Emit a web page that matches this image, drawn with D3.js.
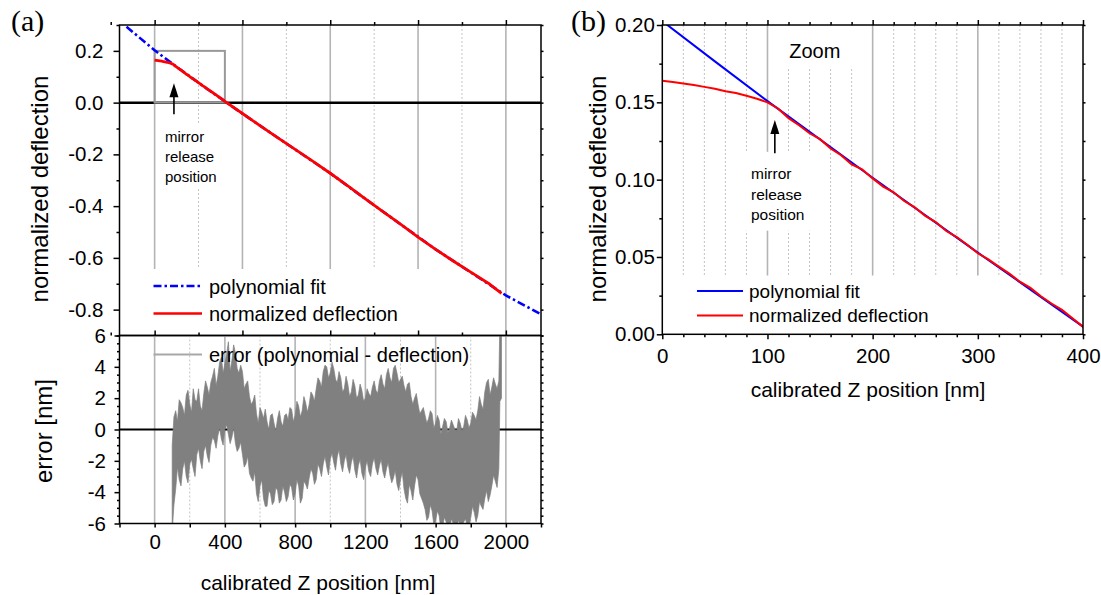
<!DOCTYPE html>
<html lang="en">
<head>
<meta charset="UTF-8">
<title>Normalized deflection and fit error vs calibrated Z position</title>
<script src="https://d3js.org/d3.v7.min.js"></script>
<style>
  body { margin: 0; background: #fff; }
  svg text { font-family: "Liberation Sans", Arial, sans-serif; fill: #000; }
  .tick line { stroke: #000; stroke-width: 1.5; }
</style>
</head>
<body>
<div id="chart"></div>
<script>
// polynomial fit (nm, normalized deflection)
const polyX = [-160, 0, 50, 100, 200, 300, 400, 500, 600, 800, 1000, 1200, 1400, 1600, 1800, 2000, 2200];
const polyY = [0.293, 0.2025, 0.1765, 0.1508, 0.1012, 0.0528, 0.0050, -0.0425, -0.089, -0.181, -0.273, -0.372, -0.470, -0.567, -0.656, -0.745, -0.818];

// measured normalized deflection
const defX = [0, 10, 20, 30, 40, 50, 60, 70, 80, 90, 100, 110, 120, 130, 140, 150, 160, 170, 180, 190,
  200, 210, 220, 230, 240, 250, 260, 270, 280, 290, 300, 310, 320, 330, 340, 350, 360, 370, 380, 390, 400,
  500, 600, 700, 800, 900, 1000, 1100, 1200, 1300, 1400, 1500, 1600, 1700, 1800, 1900, 1975];
const defY = [0.1640, 0.1632, 0.1622, 0.1612, 0.1600, 0.1588, 0.1572, 0.1560, 0.1542, 0.1523, 0.1500, 0.1460,
  0.1398, 0.1352, 0.1300, 0.1262, 0.1201, 0.1158, 0.1098, 0.1066, 0.1008, 0.0955, 0.0918, 0.0862, 0.0821,
  0.0766, 0.0726, 0.0668, 0.0629, 0.0579, 0.0524, 0.0484, 0.0438, 0.0392, 0.0340, 0.0300, 0.0246, 0.0199,
  0.0158, 0.0104, 0.0048, -0.042, -0.089, -0.135, -0.181, -0.226, -0.273, -0.322, -0.372, -0.421, -0.470,
  -0.520, -0.567, -0.612, -0.655, -0.698, -0.737];

// error (polynomial - deflection) in nm: upper / lower excursions of the noisy trace
const errX = [100, 120, 140, 160, 180, 200, 220, 240, 260, 280, 300, 320, 340, 360, 380, 400, 420, 440, 460, 480,
  500, 520, 540, 560, 580, 600, 620, 640, 660, 680, 700, 720, 740, 760, 780, 800, 820, 840, 860, 880,
  900, 920, 940, 960, 980, 1000, 1020, 1040, 1060, 1080, 1100, 1120, 1140, 1160, 1180, 1200, 1220, 1240, 1260, 1280,
  1300, 1320, 1340, 1360, 1380, 1400, 1420, 1440, 1460, 1480, 1500, 1520, 1540, 1560, 1580, 1600, 1620, 1640, 1660, 1680,
  1700, 1720, 1740, 1760, 1780, 1800, 1820, 1840, 1860, 1880, 1900, 1920, 1940, 1960, 1966, 1975];
const errHi = [-1.0, 1.2, 1.9, 1.4, 2.2, 1.6, 2.6, 1.8, 1.5, 2.3, 2.7, 3.0, 3.9, 3.4, 4.6, 4.2, 5.6, 4.4, 4.9, 3.6,
  3.7, 2.9, 2.1, 1.8, 1.0, 1.4, 0.7, 0.5, 0.9, 0.4, 0.7, 0.5, 0.9, 0.6, 1.3, 0.9, 1.5, 1.2, 1.7, 1.6,
  2.2, 2.6, 3.1, 3.7, 4.0, 3.6, 3.9, 3.0, 3.3, 2.6, 2.9, 2.4, 2.8, 2.2, 2.5, 2.0, 2.3, 2.7, 2.5, 3.1,
  2.9, 3.5, 3.3, 3.9, 3.6, 3.2, 2.8, 2.9, 2.1, 2.0, 1.6, 1.2, 0.9, 0.7, 1.0, 0.4, 0.6, 0.2, 0.5, 0.1,
  0.3, -0.1, 0.4, 0.2, 0.6, 0.4, 0.9, 1.2, 1.6, 2.4, 3.2, 2.7, 2.9, 3.1, 7.0, 7.0];
const errLo = [-6.5, -3.8, -3.2, -2.5, -3.0, -2.2, -2.5, -1.6, -2.0, -1.4, -1.7, -1.0, -0.7, -0.4, -0.6, 0.0, -0.3, -0.5, -0.9, -1.2,
  -1.6, -2.2, -2.8, -3.3, -4.1, -3.6, -4.4, -4.9, -4.1, -4.6, -3.9, -4.5, -4.0, -4.3, -3.7, -4.1, -3.6, -4.4, -3.5, -3.1,
  -2.8, -3.2, -2.5, -2.2, -2.4, -1.9, -2.1, -1.7, -2.2, -2.0, -2.4, -2.1, -2.6, -2.3, -2.8, -2.4, -2.7, -2.2, -2.5, -2.3,
  -2.7, -2.5, -2.9, -3.1, -3.5, -3.2, -3.8, -4.7, -3.9, -3.6, -3.2, -4.4, -5.1, -5.6, -5.2, -5.8, -5.5, -6.2, -5.9, -6.3,
  -6.0, -6.3, -6.1, -5.9, -6.2, -5.6, -5.3, -5.5, -4.9, -4.4, -4.6, -3.6, -3.3, -2.5, 1.8, 2.0];
// in-between samples of the same trace
const errMidX = [110, 130, 150, 170, 190, 210, 230, 250, 270, 290, 310, 330, 350, 370, 390, 410, 430, 450, 470, 490,
  510, 530, 550, 570, 590, 610, 630, 650, 670, 690, 710, 730, 750, 770, 790, 810, 830, 850, 870, 890,
  910, 930, 950, 970, 990, 1010, 1030, 1050, 1070, 1090, 1110, 1130, 1150, 1170, 1190, 1210, 1230, 1250, 1270, 1290,
  1310, 1330, 1350, 1370, 1390, 1410, 1430, 1450, 1470, 1490, 1510, 1530, 1550, 1570, 1590, 1610, 1630, 1650, 1670, 1690,
  1710, 1730, 1750, 1770, 1790, 1810, 1830, 1850, 1870, 1890, 1910, 1930, 1950];
const errMidHi = [0.8, 0.5, 1.7, 0.9, 2.5, 1.1, 1.9, 2.6, 1.2, 3.1, 2.2, 3.4, 2.8, 4.3, 3.6, 4.8, 3.7, 5.4, 3.9, 4.1,
  2.6, 3.1, 1.6, 2.2, 0.4, 1.1, 1.3, 0.0, 1.0, -0.1, 1.2, 0.2, 1.0, 1.4, 0.5, 1.8, 0.8, 2.1, 1.1, 2.4,
  1.8, 3.3, 2.7, 4.1, 3.3, 4.3, 3.2, 3.7, 2.4, 3.4, 2.1, 3.2, 2.0, 2.9, 1.8, 2.6, 2.1, 3.1, 2.3, 3.5,
  2.6, 3.9, 3.0, 4.1, 3.0, 3.4, 2.4, 3.0, 1.6, 2.3, 1.0, 1.4, 0.4, 1.2, 0.1, 0.9, -0.3, 0.7, -0.2, 0.6,
  0.0, 0.7, -0.1, 0.9, 0.1, 1.1, 0.6, 2.1, 1.3, 3.0, 2.2, 3.3, 2.6];
const errMidLo = [-4.8, -2.4, -3.6, -2.0, -3.4, -1.9, -3.0, -1.2, -2.5, -1.0, -2.1, -0.5, -1.2, 0.1, -1.0, 0.3, -0.9, 0.1, -1.4, -0.8,
  -2.4, -1.7, -3.1, -2.7, -4.6, -3.2, -4.9, -3.9, -4.8, -3.7, -4.7, -3.6, -4.6, -3.5, -4.5, -3.2, -4.7, -3.3, -3.8, -2.5,
  -3.5, -2.2, -3.0, -1.7, -2.9, -1.5, -2.6, -1.3, -2.7, -1.6, -2.8, -1.7, -3.1, -1.9, -3.2, -2.0, -3.0, -1.8, -2.9, -1.9,
  -3.1, -2.1, -3.4, -2.6, -3.9, -2.7, -4.4, -3.5, -4.5, -2.9, -4.1, -4.7, -5.8, -4.8, -6.1, -5.2, -6.4, -5.6, -6.4, -5.7,
  -6.4, -5.8, -6.3, -5.7, -6.3, -4.9, -5.9, -4.6, -5.1, -3.9, -4.2, -2.9, -3.7];

// ticks and grid
const topYMajor = [0.2, 0, -0.2, -0.4, -0.6, -0.8];
const topYMinor = [0.3, 0.1, -0.1, -0.3, -0.5, -0.7, -0.9];
const topXMajor = [0, 500, 1000, 1500, 2000];
const topXMinor = [-250, 250, 750, 1250, 1750];
const errYMajor = [6, 4, 2, 0, -2, -4, -6];
const errYMinor = [5.5, 5, 4.5, 3.5, 3, 2.5, 1.5, 1, 0.5, -0.5, -1, -1.5, -2.5, -3, -3.5, -4.5, -5, -5.5];
const errXMajor = [0, 400, 800, 1200, 1600, 2000];
const errXMinor = [-200, 200, 600, 1000, 1400, 1800, 2200];
const bYMajor = [0, 0.05, 0.1, 0.15, 0.2];
const bYMinor = [0.025, 0.075, 0.125, 0.175];
const bXMajor = [0, 100, 200, 300, 400];
const bXMinor = [20, 40, 60, 80, 120, 140, 160, 180, 220, 240, 260, 280, 320, 340, 360, 380];

const mirrorRelease = 110;

const svg = d3.select("#chart").append("svg")
  .attr("width", 1101)
  .attr("height", 595);

// scales
const xA = d3.scaleLinear().domain([-200, 2200]).range([119.5, 541]);
const yTop = d3.scaleLinear().domain([-0.9, 0.3]).range([335.5, 25]);
const yErr = d3.scaleLinear().domain([-6, 6]).range([523.5, 335.5]);
const xB = d3.scaleLinear().domain([0, 400]).range([662.3, 1083]);
const yB = d3.scaleLinear().domain([0, 0.2]).range([334.3, 25]);

function clip(id, x0, y0, x1, y1) {
  svg.append("clipPath").attr("id", id).append("rect")
    .attr("x", x0).attr("y", y0).attr("width", x1 - x0).attr("height", y1 - y0);
}
clip("clipTop", xA(-200), yTop(0.3), xA(2200), yTop(-0.9));
clip("clipErr", xA(-200), yErr(6), xA(2200), yErr(-6));
clip("clipB", xB(0), yB(0.2), xB(400), yB(0));

function grid(vals, x, y0, y1, dotted) {
  svg.append("g").selectAll("line").data(vals).join("line")
    .attr("x1", d => x(d)).attr("x2", d => x(d))
    .attr("y1", y0).attr("y2", y1)
    .attr("stroke", dotted ? "#c4c4c4" : "#b4b4b4")
    .attr("stroke-width", dotted ? 1 : 1.6)
    .attr("stroke-dasharray", dotted ? "2,2" : null);
}

function ticks(axis, scale, vals, size, tx, ty, fmt, pad, fontSize) {
  const a = axis(scale).tickValues(vals).tickSize(size).tickSizeOuter(0)
    .tickPadding(pad || 3).tickFormat(fmt || "");
  const g = svg.append("g").attr("transform", `translate(${tx},${ty})`).call(a);
  g.select(".domain").remove();
  g.selectAll("text").style("font-size", (fontSize || 20.5) + "px");
  return g;
}

function frame(x0, y0, x1, y1) {
  svg.append("rect").attr("x", x0).attr("y", y0)
    .attr("width", x1 - x0).attr("height", y1 - y0)
    .attr("fill", "none").attr("stroke", "#000").attr("stroke-width", 1.5);
}

function whiteBox(x0, y0, x1, y1) {
  svg.append("rect").attr("x", x0).attr("y", y0)
    .attr("width", x1 - x0).attr("height", y1 - y0).attr("fill", "#fff");
}

// ---------- panel (a) top ----------
grid(topXMajor.filter(d => d >= 0), xA, yTop(0.3), yTop(-0.9), false);
grid(topXMinor.filter(d => d > 0), xA, yTop(0.3), yTop(-0.9), true);
// legend background
whiteBox(xA(-190), 269, xA(1775), yTop(-0.9) - 1);
// mirror text background
whiteBox(160, 124, 212, 188);

svg.append("line")
  .attr("x1", xA(-200)).attr("x2", xA(2200))
  .attr("y1", yTop(0)).attr("y2", yTop(0))
  .attr("stroke", "#000").attr("stroke-width", 2.5);

svg.append("rect")
  .attr("x", xA(0)).attr("y", yTop(0.2))
  .attr("width", xA(400) - xA(0)).attr("height", yTop(0) - yTop(0.2))
  .attr("fill", "none").attr("stroke", "#999").attr("stroke-width", 2);

const lineTop = d3.line().x(d => xA(d[0])).y(d => yTop(d[1]));
svg.append("path")
  .datum(d3.zip(polyX, polyY))
  .attr("clip-path", "url(#clipTop)")
  .attr("fill", "none").attr("stroke", "#0000ff").attr("stroke-width", 2.6)
  .attr("stroke-dasharray", "8,3,2.5,3")
  .attr("d", lineTop);
svg.append("path")
  .datum(d3.zip(defX, defY))
  .attr("fill", "none").attr("stroke", "#ff0000").attr("stroke-width", 2.8)
  .attr("stroke-linejoin", "round")
  .attr("d", lineTop);

// arrow + text
function arrow(x, yTip, yBase) {
  svg.append("line").attr("x1", x).attr("x2", x).attr("y1", yBase).attr("y2", yTip + 10)
    .attr("stroke", "#000").attr("stroke-width", 1.6);
  svg.append("path")
    .attr("d", `M${x},${yTip} L${x - 4.5},${yTip + 14} L${x + 4.5},${yTip + 14} Z`)
    .attr("fill", "#000");
}
arrow(xA(mirrorRelease), yTop(0.075), yTop(-0.045));
["mirror", "release", "position"].forEach((t, i) => {
  svg.append("text").attr("x", 165).attr("y", 142 + i * 20)
    .style("font-size", "15px").text(t);
});

// legend (a)
svg.append("line").attr("x1", 153.5).attr("x2", 202).attr("y1", 286).attr("y2", 286)
  .attr("stroke", "#0000ff").attr("stroke-width", 2.6).attr("stroke-dasharray", "8,3,2.5,3");
svg.append("line").attr("x1", 153.5).attr("x2", 202).attr("y1", 313.5).attr("y2", 313.5)
  .attr("stroke", "#ff0000").attr("stroke-width", 2.6);
svg.append("text").attr("x", 209).attr("y", 294).style("font-size", "20px").text("polynomial fit");
svg.append("text").attr("x", 209).attr("y", 321).style("font-size", "20px").text("normalized deflection");

// axes (a) top
ticks(d3.axisLeft, yTop, topYMajor, 6, xA(-200), 0, d => d.toFixed(1), 10);
ticks(d3.axisLeft, yTop, topYMinor, 3, xA(-200), 0);
ticks(d3.axisRight, yTop, topYMajor.concat(topYMinor), 2.5, xA(2200), 0);
ticks(d3.axisTop, xA, topXMajor, 5, 0, yTop(0.3));
ticks(d3.axisTop, xA, topXMinor, 3, 0, yTop(0.3));
ticks(d3.axisTop, xA, topXMajor, 5, 0, yTop(-0.9));
ticks(d3.axisTop, xA, topXMinor, 3, 0, yTop(-0.9));
frame(xA(-200), yTop(0.3), xA(2200), yTop(-0.9));

// ---------- panel (a) bottom ----------
grid(errXMajor, xA, yErr(6), yErr(-6), false);
grid(errXMinor.filter(d => d > 0 && d < 2000), xA, yErr(6), yErr(-6), true);
svg.append("line")
  .attr("x1", xA(-200)).attr("x2", xA(2200))
  .attr("y1", yErr(0)).attr("y2", yErr(0))
  .attr("stroke", "#000").attr("stroke-width", 2);

const errRows = errX.map((x, i) => ({ x: x, hi: errHi[i], lo: errLo[i] }))
  .concat(errMidX.map((x, i) => ({ x: x, hi: errMidHi[i], lo: errMidLo[i] })))
  .sort((a, b) => a.x - b.x);
const errArea = d3.area()
  .x(d => xA(d.x))
  .y0(d => yErr(d.lo))
  .y1(d => yErr(d.hi));
svg.append("path")
  .datum(errRows)
  .attr("clip-path", "url(#clipErr)")
  .attr("fill", "#808080").attr("stroke", "#808080").attr("stroke-width", 0.7)
  .attr("stroke-linejoin", "miter")
  .attr("d", errArea);

svg.append("line").attr("x1", 153.5).attr("x2", 202).attr("y1", 354.5).attr("y2", 354.5)
  .attr("stroke", "#a8a8a8").attr("stroke-width", 2);
svg.append("text").attr("x", 209).attr("y", 362).style("font-size", "20px")
  .text("error (polynomial - deflection)");

ticks(d3.axisLeft, yErr, errYMajor, 5, xA(-200), 0, d => String(d), 8.5);
ticks(d3.axisLeft, yErr, errYMinor, 2.5, xA(-200), 0);
ticks(d3.axisRight, yErr, errYMajor.concat(errYMinor), 2.5, xA(2200), 0);
ticks(d3.axisBottom, xA, errXMajor, 4, 0, yErr(-6), d => String(d), 7);
ticks(d3.axisBottom, xA, errXMinor, 4, 0, yErr(-6));
frame(xA(-200), yErr(6), xA(2200), yErr(-6));

// ---------- panel (b) ----------
grid(bXMajor.filter(d => d > 0 && d < 400), xB, yB(0.2), yB(0.038), false);
grid(bXMinor, xB, yB(0.2), yB(0.038), true);
whiteBox(xB(116), yB(0.2) + 1, xB(188), yB(0.173));
whiteBox(xB(79), yB(0.118), xB(142), yB(0.067));

const lineB = d3.line().x(d => xB(d[0])).y(d => yB(d[1]));
svg.append("path")
  .datum(d3.zip(polyX, polyY))
  .attr("clip-path", "url(#clipB)")
  .attr("fill", "none").attr("stroke", "#0000ff").attr("stroke-width", 2)
  .attr("d", lineB);
svg.append("path")
  .datum(d3.zip(defX, defY).filter(d => d[0] <= 400))
  .attr("clip-path", "url(#clipB)")
  .attr("fill", "none").attr("stroke", "#ff0000").attr("stroke-width", 2)
  .attr("d", lineB);

arrow(xB(107), yB(0.1385), yB(0.117));
["mirror", "release", "position"].forEach((t, i) => {
  svg.append("text").attr("x", 751).attr("y", 179 + i * 20.5)
    .style("font-size", "15.5px").text(t);
});
svg.append("text").attr("x", xB(145)).attr("y", 57.5).attr("text-anchor", "middle")
  .style("font-size", "20px").text("Zoom");

svg.append("line").attr("x1", 697).attr("x2", 743).attr("y1", 291).attr("y2", 291)
  .attr("stroke", "#0000ff").attr("stroke-width", 2);
svg.append("line").attr("x1", 697).attr("x2", 743).attr("y1", 315.5).attr("y2", 315.5)
  .attr("stroke", "#ff0000").attr("stroke-width", 2);
svg.append("text").attr("x", 749).attr("y", 297.5).style("font-size", "19px").text("polynomial fit");
svg.append("text").attr("x", 749).attr("y", 322).style("font-size", "19px").text("normalized deflection");

ticks(d3.axisLeft, yB, bYMajor, 5.5, xB(0), 0, d => d.toFixed(2), 2);
ticks(d3.axisLeft, yB, bYMinor, 3, xB(0), 0);
ticks(d3.axisRight, yB, bYMajor.concat(bYMinor), 2.5, xB(400), 0);
ticks(d3.axisBottom, xB, bXMajor, 5, 0, yB(0), d => String(d), 9.5);
ticks(d3.axisBottom, xB, bXMinor, 3, 0, yB(0));
ticks(d3.axisTop, xB, bXMajor, 5, 0, yB(0.2));
ticks(d3.axisTop, xB, bXMinor, 3, 0, yB(0.2));
frame(xB(0), yB(0.2), xB(400), yB(0));

// ---------- titles ----------
function yLabel(x, y, t) {
  svg.append("text").attr("transform", `translate(${x},${y}) rotate(-90)`)
    .attr("text-anchor", "middle").attr("dy", "0.35em")
    .style("font-size", "24px").text(t);
}
yLabel(40, 189, "normalized deflection");
yLabel(44, 431, "error [nm]");
yLabel(598, 189, "normalized deflection");

svg.append("text").attr("x", 318).attr("y", 590).attr("text-anchor", "middle")
  .style("font-size", "21px").text("calibrated Z position [nm]");
svg.append("text").attr("x", 868).attr("y", 397).attr("text-anchor", "middle")
  .style("font-size", "21px").text("calibrated Z position [nm]");

svg.append("text").attr("x", 11).attr("y", 31)
  .style("font-family", "'Liberation Serif', 'Times New Roman', serif").style("font-size", "30px").text("(a)");
svg.append("text").attr("x", 571).attr("y", 31)
  .style("font-family", "'Liberation Serif', 'Times New Roman', serif").style("font-size", "30px").text("(b)");
</script>
</body>
</html>
